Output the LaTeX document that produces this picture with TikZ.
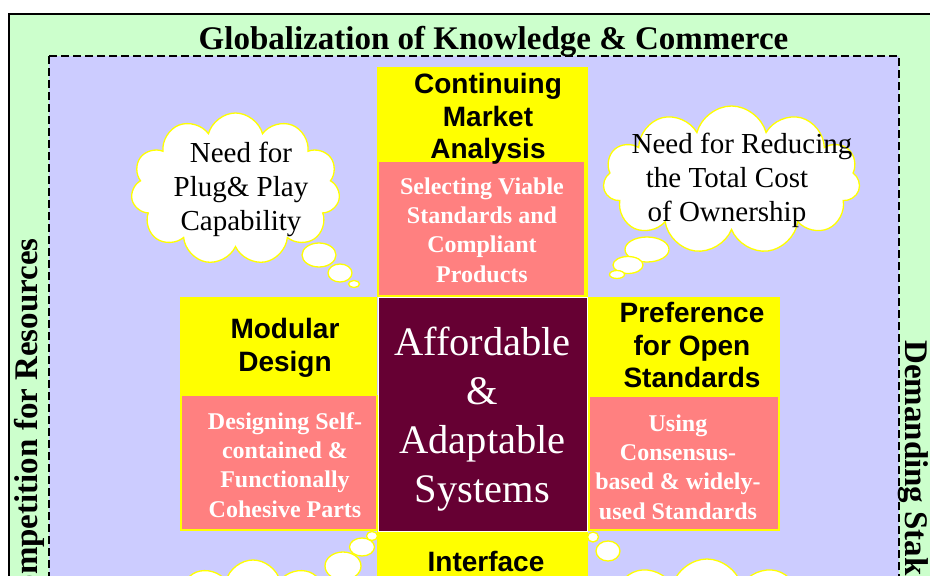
\documentclass[tikz,border=0pt]{standalone}
\usepackage{fontspec}
\setmainfont{Liberation Serif}
\setsansfont{Liberation Sans}
\usepackage{tikz}
\usetikzlibrary{positioning,shapes.symbols}
\definecolor{outergreen}{HTML}{CCFFCC}
\definecolor{innerblue}{HTML}{CCCCFF}
\definecolor{boxyellow}{HTML}{FFFF00}
\definecolor{boxpink}{HTML}{FF8080}
\definecolor{corewine}{HTML}{660033}
\tikzset{slab/.style={rectangle,inner sep=0pt,outer sep=0pt}}
\tikzset{pinkslab/.style={slab,fill=boxpink,draw=boxyellow,line width=1.5pt}}
\tikzset{headtext/.style={font=\sffamily\bfseries\fontsize{28}{32.5}\selectfont,align=center,inner sep=0pt}}
\tikzset{pinktext/.style={font=\bfseries\fontsize{24}{29.3}\selectfont,text=white,align=center,inner sep=0pt}}
\tikzset{thinktext/.style={font=\fontsize{29}{34}\selectfont,align=center,inner sep=0pt}}
\tikzset{sidetext/.style={font=\bfseries\fontsize{33}{39}\selectfont,inner sep=0pt}}
\tikzset{thought/.style={cloud,cloud puffs=11,cloud ignores aspect,draw=boxyellow,fill=white,
  line width=1.3pt,inner sep=0pt}}
\tikzset{bubble/.style={draw=boxyellow,fill=white,line width=1.3pt}}

\begin{document}
\begin{tikzpicture}[x=1pt,y=-1pt]
  \useasboundingbox (0,0) rectangle (930,576);
  \clip (0,0) rectangle (930,576);
  \draw[line width=1.2pt,fill=outergreen] (9,14) rectangle (990,760);
  \draw[line width=1.3pt,dash pattern=on 8pt off 4pt,fill=innerblue] (49,56) rectangle (899,740);
  \node[font=\bfseries\fontsize{33}{39}\selectfont,inner sep=0pt,anchor=base] (title) at (493.5,49)
    {Globalization of Knowledge \& Commerce};
  \node[sidetext,rotate=90,anchor=base east] (rivals) at (37,238) {Competition for Resources};
  \node[sidetext,rotate=-90,anchor=base west] (owners) at (905,340) {Demanding Stakeholders};

  % thought clouds and their trails of bubbles
  \node[thought,minimum width=209pt,minimum height=152pt] (plugcloud) at (235.5,189) {};
  \node[thought,minimum width=257pt,minimum height=148pt] (costcloud) at (731.5,180) {};
  \node[thought,minimum width=209pt,minimum height=152pt] (lowleftcloud) at (253,636) {};
  \node[thought,minimum width=257pt,minimum height=148pt] (lowrightcloud) at (707,633) {};
  \draw[bubble] (319,255) ellipse [x radius=17pt,y radius=12pt];
  \draw[bubble] (340,273) ellipse [x radius=12pt,y radius=9pt];
  \draw[bubble] (354,284) ellipse [x radius=5.5pt,y radius=3.5pt];
  \draw[bubble] (647,249.5) ellipse [x radius=22pt,y radius=12.5pt];
  \draw[bubble] (628,265) ellipse [x radius=15pt,y radius=8.5pt];
  \draw[bubble] (617,274.5) ellipse [x radius=7.5pt,y radius=4pt];
  \draw[bubble] (343,566) ellipse [x radius=18pt,y radius=14pt];
  \draw[bubble] (362,547) ellipse [x radius=12.5pt,y radius=9pt];
  \draw[bubble] (372,536) ellipse [x radius=5.5pt,y radius=4.5pt];
  \draw[bubble] (608,551) ellipse [x radius=12pt,y radius=10pt];
  \draw[bubble] (593,537) ellipse [x radius=5.5pt,y radius=5pt];
  \node[thinktext] (plugtext) at (241,189) {Need for\\Plug\& Play\\Capability};
  \node[thinktext] (costtext) at (742,180)
    {Need for Reducing\\the Total Cost\hspace*{30pt}\null\\of Ownership\hspace*{30pt}\null};

  % columns
  \node[slab,fill=boxyellow,minimum width=211pt,minimum height=230pt] (mktcol) at (482.5,182) {};
  \node[slab,fill=boxyellow,minimum width=197pt,minimum height=234pt] (modcol) at (278.5,414) {};
  \node[slab,fill=boxyellow,minimum width=192pt,minimum height=234pt] (opencol) at (684,414) {};
  \node[slab,fill=boxyellow,minimum width=211pt,minimum height=169pt] (ifacecol) at (482.5,615.5) {};
  \node[pinkslab,minimum width=206.5pt,minimum height=135pt] (mktpink) at (481.75,228.5) {};
  \node[pinkslab,minimum width=196pt,minimum height=134.5pt] (modpink) at (279,462.75) {};
  \node[pinkslab,minimum width=190pt,minimum height=134pt] (openpink) at (684,463) {};
  \node[slab,fill=corewine,draw=white,line width=.8pt,minimum width=209pt,minimum height=234pt]
    (core) at (482.5,414) {};

  \node[headtext] (mkttext) at (488,119) {Continuing\\Market\\Analysis};
  \node[headtext] (modtext) at (285,348) {Modular\\Design};
  \node[headtext] (opentext) at (692,345) {Preference\\for Open\\Standards};
  \node[headtext,anchor=base] (ifacetext) at (486,571) {Interface};
  \node[pinktext] (selecttext) at (482,230) {Selecting Viable\\Standards and\\Compliant\\Products};
  \node[pinktext] (parttext) at (285,465) {Designing Self-\\contained \&\\Functionally\\Cohesive Parts};
  \node[pinktext] (stdtext) at (678,467) {Using\\Consensus-\\based \& widely-\\used Standards};
  \node[font=\fontsize{40.5}{49}\selectfont,text=white,align=center,inner sep=0pt] (coretext)
    at (482.5,419) {Affordable\\\&\\Adaptable\\Systems};
\end{tikzpicture}
\end{document}
